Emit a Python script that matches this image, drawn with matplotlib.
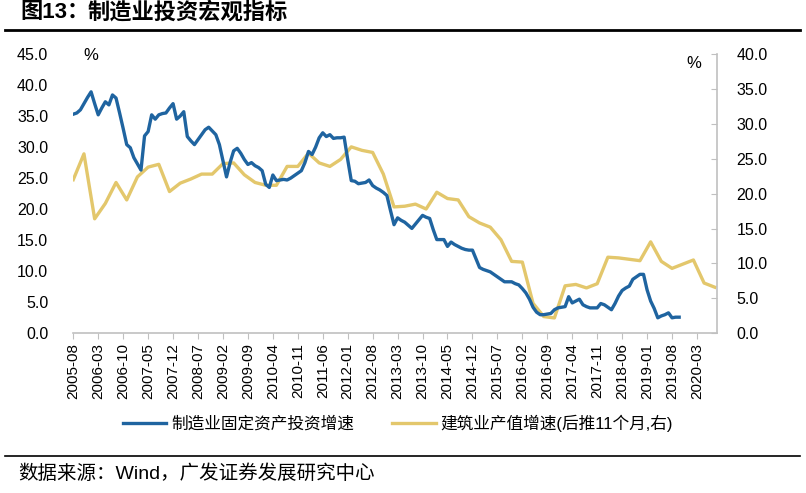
import matplotlib
matplotlib.use("Agg")
import matplotlib.pyplot as plt
import numpy as np
import pandas as pd

plt.rcParams['font.family'] = ['Liberation Sans', 'Noto Sans CJK SC']

# 制造业固定资产投资累计同比(%)，月度，2005-08 起
manuf_start = "2005-08"
manuf_fai = [
    35.3, 35.5, 36.0, 37.0, 38.0, 38.9, 37.0, 35.2, 36.3, 37.3, 36.8,
    38.4, 37.9, 35.5, 33.0, 30.4, 29.9, 28.3, 27.3, 26.3, 31.8,
    32.5, 35.2, 34.5, 35.2, 35.4, 35.5, 36.3, 37.0, 34.5, 35.0,
    35.7, 31.7, 31.0, 30.4, 31.2, 32.0, 32.8, 33.2, 32.6, 32.0,
    30.4, 27.8, 25.2, 27.5, 29.4, 29.8, 29.0, 28.0, 27.2, 27.5,
    27.0, 26.7, 26.2, 24.0, 23.5, 25.5, 24.6, 24.7, 24.8, 24.7,
    25.0, 25.4, 25.8, 26.2, 27.5, 29.3, 28.8, 30.0, 31.5, 32.3,
    31.7, 32.0, 31.4, 31.5, 31.5, 31.6, 28.0, 24.6, 24.5, 24.1,
    24.2, 24.3, 24.7, 23.8, 23.4, 23.1, 22.7, 22.2, 19.8, 17.5,
    18.6, 18.2, 17.9, 17.4, 16.9, 17.6, 18.3, 19.0, 18.7, 18.5,
    16.7, 15.1, 15.1, 15.1, 14.0, 14.7, 14.3, 14.0, 13.7, 13.5,
    13.4, 13.4, 12.0, 10.6, 10.3, 10.1, 9.9, 9.5, 9.1, 8.7,
    8.3, 8.3, 8.3, 8.0, 7.8, 7.2, 6.5, 5.5, 4.2, 3.4,
    3.0, 3.0, 3.1, 3.2, 3.8, 4.1, 4.2, 4.3, 5.9, 4.9,
    5.2, 5.5, 4.6, 4.3, 4.1, 4.1, 4.1, 4.8, 4.6, 4.2,
    3.8, 4.8, 6.0, 6.9, 7.3, 7.6, 8.7, 9.1, 9.5, 9.5,
    7.0, 5.2, 4.0, 2.5, 2.8, 3.0, 3.3, 2.5, 2.6, 2.6,
]

# 建筑业产值增速(后推11个月)，季度
build_start = "2005-08"
build_output = [
    22.0, 25.7, 16.4, 18.6, 21.6, 19.1, 22.4, 23.8, 24.2, 20.3,
    21.5, 22.1, 22.8, 22.8, 24.3, 24.4, 22.7, 21.6, 21.2, 21.2,
    23.9, 23.9, 25.8, 24.4, 23.9, 24.9, 26.7, 26.2, 25.9, 22.8,
    18.1, 18.2, 18.5, 17.8, 20.2, 19.3, 19.1, 16.7, 15.8, 15.2,
    13.4, 10.3, 10.2, 4.3, 2.4, 2.2, 6.8, 7.0, 6.5, 7.1,
    10.9, 10.8, 10.6, 10.4, 13.1, 10.3, 9.3, 9.9, 10.5, 7.2,
    6.6,
]

left_ticks = [0, 5, 10, 15, 20, 25, 30, 35, 40, 45]
right_ticks = [0, 5, 10, 15, 20, 25, 30, 35, 40]

blue = "#1f64a0"
yellow = "#e3c76c"
grey = "#c0c0c0"

base = pd.Timestamp(manuf_start)
m_dates = pd.date_range(manuf_start, periods=len(manuf_fai), freq="MS")
b_dates = pd.date_range(build_start, periods=len(build_output), freq="3MS")

def month_idx(d):
    return (d.year - base.year) * 12 + (d.month - base.month)

mx = np.array([month_idx(d) for d in m_dates])
bx = np.array([month_idx(d) for d in b_dates])

tick_pos = np.arange(0, 176, 7)
tick_lab = [(base + pd.DateOffset(months=int(p))).strftime("%Y-%m") for p in tick_pos]

fig = plt.figure(figsize=(8.06, 4.93), dpi=100)
ax = fig.add_axes([0.0909, 0.3239, 0.7986, 0.5666])
ax2 = ax.twinx()

l1, = ax.plot(mx, manuf_fai, color=blue, lw=2.4, label="制造业固定资产投资增速", zorder=3)
l2, = ax2.plot(bx, build_output, color=yellow, lw=2.4, label="建筑业产值增速(后推11个月,右)", zorder=2)
ax.set_zorder(ax2.get_zorder() + 1)
ax.patch.set_visible(False)

ax.set_xlim(0, 180.6)
ax.set_ylim(0, 45)
ax2.set_ylim(0, 40)
ax.set_yticks(left_ticks)
ax.set_yticklabels([f"{v:.1f}" for v in left_ticks], fontsize=11.5)
ax2.set_yticks(right_ticks)
ax2.set_yticklabels([f"{v:.1f}" for v in right_ticks], fontsize=11.5)
ax.set_xticks(tick_pos)
ax.set_xticklabels(tick_lab, rotation=90, fontsize=11)

for a in (ax, ax2):
    for s in a.spines.values():
        s.set_visible(False)
ax2.spines["right"].set_visible(True)
ax2.spines["right"].set_color(grey)
ax2.spines["right"].set_linewidth(1.2)
ax.spines["bottom"].set_visible(True)
ax.spines["bottom"].set_color(grey)
ax.spines["bottom"].set_linewidth(1.2)

ax.tick_params(axis="y", length=0, pad=18)
ax.tick_params(axis="x", direction="out", length=4, color=grey, pad=3)
ax2.tick_params(axis="y", direction="in", length=4, color=grey, pad=14)

fig.text(83 / 806, 1 - 55 / 493, "%", fontsize=12, ha="left", va="center")
fig.text(686 / 806, 1 - 63 / 493, "%", fontsize=12, ha="left", va="center")

fig.legend(handles=[l1, l2], loc="center", bbox_to_anchor=(398 / 806, 1 - 423 / 493),
           ncol=2, frameon=False, fontsize=12, handlelength=2.6, columnspacing=2.3,
           handletextpad=0.3)

# 标题与来源
fig.text(20 / 806, 1 - 13 / 493, "图13：", fontsize=16, fontweight="bold",
         ha="left", va="center")
fig.text(88 / 806, 1 - 13 / 493, "制造业投资宏观指标", fontsize=16, fontweight="bold",
         ha="left", va="center")
fig.add_artist(plt.Line2D([5 / 806, 800 / 806], [1 - 30 / 493, 1 - 30 / 493], color="black", lw=2))
fig.add_artist(plt.Line2D([5 / 806, 800 / 806], [1 - 456 / 493, 1 - 456 / 493], color="black", lw=1.2))
fig.text(18 / 806, 1 - 474 / 493, "数据来源：Wind，广发证券发展研究中心", fontsize=14,
         ha="left", va="center")

fig.savefig("out.png", dpi=100)
